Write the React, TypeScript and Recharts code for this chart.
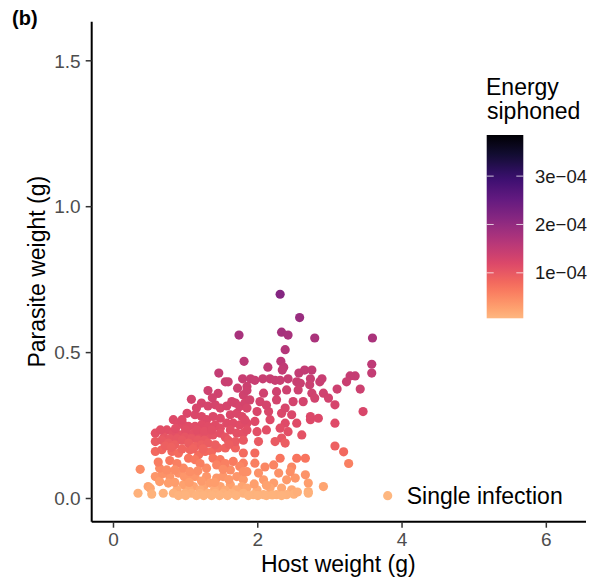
import React from 'react';
import { ScatterChart, Scatter, XAxis, YAxis } from 'recharts';

// ---- data: [host weight (g), parasite weight (g)] ----
const outlierPoints: number[][] = [
  [2.31, 0.70], [2.58, 0.62], [1.74, 0.56], [2.33, 0.57], [2.42, 0.56], [2.79, 0.55], [3.59, 0.55],
  [2.38, 0.51], [1.81, 0.47], [3.58, 0.46], [3.58, 0.43], [2.14, 0.45], [2.32, 0.47], [2.36, 0.45],
  [2.34, 0.44], [2.57, 0.43], [2.65, 0.44], [2.75, 0.44], [3.35, 0.42], [3.28, 0.42], [3.23, 0.40],
  [1.46, 0.43],
];
const upperPoints: number[][] = [
  [1.55, 0.40], [1.59, 0.40], [1.79, 0.41], [1.90, 0.41], [1.96, 0.405], [2.07, 0.41], [2.17, 0.41],
  [2.24, 0.405], [2.31, 0.405], [2.42, 0.41], [2.54, 0.40], [2.59, 0.395], [2.73, 0.41], [2.72, 0.39],
  [2.86, 0.40], [2.89, 0.41], [3.10, 0.375], [3.42, 0.375], [1.72, 0.378], [1.31, 0.37], [1.85, 0.384],
  [1.45, 0.36], [1.80, 0.355], [1.08, 0.34], [1.22, 0.327], [1.31, 0.317], [1.41, 0.321], [1.48, 0.31],
  [1.57, 0.317], [1.64, 0.332], [1.69, 0.327], [1.75, 0.315], [1.82, 0.327], [1.85, 0.37], [2.08, 0.361],
  [2.26, 0.366], [2.40, 0.372], [2.56, 0.372], [2.75, 0.361], [2.91, 0.361], [1.89, 0.338], [2.03, 0.332],
  [2.26, 0.338], [2.49, 0.332], [2.63, 0.332], [2.79, 0.344], [2.98, 0.344], [3.07, 0.321], [1.85, 0.31],
  [1.99, 0.298], [2.15, 0.298], [2.33, 0.292], [2.47, 0.287], [2.73, 0.281], [2.84, 0.275], [3.07, 0.258],
  [3.46, 0.298], [1.15, 0.31], [1.37, 0.345], [2.12, 0.32], [2.38, 0.31],
];
const middlePoints: number[][] = [
  [1.02, 0.292], [1.13, 0.287], [1.22, 0.281], [1.29, 0.27], [1.38, 0.281], [1.48, 0.275], [1.62, 0.287],
  [1.71, 0.292], [1.78, 0.281], [0.83, 0.27], [0.90, 0.258], [0.97, 0.252], [1.04, 0.247], [1.13, 0.247],
  [1.22, 0.252], [1.31, 0.247], [1.41, 0.252], [1.48, 0.241], [1.57, 0.258], [1.66, 0.258], [1.75, 0.252],
  [1.85, 0.258], [1.82, 0.27], [1.96, 0.264], [2.17, 0.27], [2.38, 0.258], [2.54, 0.258], [2.73, 0.27],
  [0.58, 0.224], [0.74, 0.235], [0.83, 0.224], [0.92, 0.218], [1.02, 0.218], [1.11, 0.224], [1.20, 0.218],
  [1.29, 0.212], [1.38, 0.218], [1.48, 0.224], [1.62, 0.235], [1.71, 0.224], [1.80, 0.224], [1.85, 0.235],
  [1.99, 0.229], [2.12, 0.235], [2.31, 0.241], [2.42, 0.229], [2.61, 0.218], [2.33, 0.207], [0.86, 0.24],
  [1.00, 0.235], [1.16, 0.235], [1.26, 0.23], [1.36, 0.235], [0.70, 0.21], [0.78, 0.205], [0.88, 0.205],
  [0.99, 0.21], [1.08, 0.205], [1.17, 0.20], [1.26, 0.20], [1.55, 0.21], [0.65, 0.235], [0.95, 0.27],
  [0.58, 0.195], [0.67, 0.20], [0.76, 0.19], [0.85, 0.184], [0.95, 0.20], [1.04, 0.19], [1.13, 0.178],
  [1.22, 0.184], [1.31, 0.19], [1.41, 0.184], [1.59, 0.20], [1.69, 0.195], [1.80, 0.20], [2.01, 0.195],
  [2.24, 0.195], [2.38, 0.19], [1.60, 0.185], [0.72, 0.18], [0.80, 0.175], [0.95, 0.17], [1.10, 0.17],
  [1.24, 0.17], [3.07, 0.18], [3.19, 0.16], [3.26, 0.12],
];
const lowerPoints: number[][] = [
  [0.58, 0.161], [0.67, 0.167], [0.81, 0.161], [0.90, 0.155], [1.06, 0.167], [1.18, 0.15], [1.27, 0.161],
  [1.36, 0.161], [1.45, 0.173], [1.55, 0.173], [1.69, 0.173], [1.04, 0.138], [1.13, 0.133], [1.38, 0.138],
  [1.48, 0.133], [1.66, 0.127], [1.80, 0.156], [1.96, 0.156], [2.31, 0.138], [2.54, 0.138], [2.66, 0.138],
  [1.80, 0.121], [1.96, 0.121], [2.10, 0.108], [2.22, 0.115], [2.47, 0.108], [0.37, 0.10], [0.64, 0.104],
  [0.74, 0.098], [0.97, 0.104], [1.06, 0.092], [1.29, 0.104], [1.43, 0.115], [1.62, 0.098], [1.75, 0.11],
  [1.80, 0.092], [1.85, 0.092], [2.01, 0.087], [2.29, 0.087], [2.45, 0.092], [2.66, 0.081],
  [0.62, 0.125], [0.78, 0.13], [0.88, 0.12], [1.20, 0.12], [1.55, 0.12], [0.85, 0.098], [1.17, 0.095],
  [1.52, 0.10],
];
const basePoints: number[][] = [
  [0.58, 0.075], [0.78, 0.075], [0.90, 0.087], [1.04, 0.07], [1.13, 0.075], [1.29, 0.075], [1.43, 0.07],
  [1.52, 0.075], [1.71, 0.075], [1.80, 0.064], [2.08, 0.064], [2.22, 0.053], [2.40, 0.064], [2.52, 0.07],
  [2.70, 0.053], [0.48, 0.041], [0.64, 0.058], [0.76, 0.053], [0.97, 0.047], [1.11, 0.041], [1.25, 0.041],
  [1.34, 0.053], [1.48, 0.041], [1.62, 0.047], [1.78, 0.041], [1.85, 0.036], [1.99, 0.03], [2.17, 0.036],
  [2.33, 0.036], [2.47, 0.03], [2.70, 0.024], [2.91, 0.041], [0.51, 0.035], [0.88, 0.03], [1.05, 0.03],
  [1.20, 0.03], [1.40, 0.03], [1.55, 0.028], [1.70, 0.03], [0.68, 0.085], [0.98, 0.075], [1.22, 0.06],
  [1.60, 0.065], [1.95, 0.05], [2.12, 0.045], [0.85, 0.055], [1.05, 0.055], [1.40, 0.055],
  [0.34, 0.018], [0.53, 0.015], [0.69, 0.018], [0.83, 0.018], [0.99, 0.018], [1.08, 0.018], [1.20, 0.018],
  [1.31, 0.018], [1.41, 0.018], [1.52, 0.018], [1.64, 0.018], [1.80, 0.018], [1.94, 0.013], [2.08, 0.013],
  [2.26, 0.013], [2.40, 0.013], [2.70, 0.018], [0.90, 0.01], [1.00, 0.01], [1.15, 0.01], [1.25, 0.01],
  [1.36, 0.01], [1.47, 0.01], [1.58, 0.01], [1.70, 0.01], [1.87, 0.01], [2.00, 0.01], [2.12, 0.01],
  [2.20, 0.012], [2.33, 0.01], [2.50, 0.015], [2.55, 0.022],
];

const xTicks = [0, 2, 4, 6];
const yTicks = [0, 0.5, 1, 1.5];
const energyTicks = [1e-4, 2e-4, 3e-4];
const energyTickLabels = ['1e\u221204', '2e\u221204', '3e\u221204'];
const energyRange = [0.06e-4, 3.85e-4];

// ---- styling helpers ----
const FONT = '"Liberation Sans", Arial, Helvetica, sans-serif';
const magmaStops = ['#000004', '#140E36', '#3B0F70', '#641A80', '#8C2981', '#B73779', '#DE4968', '#F7705C', '#FE9F6D', '#FECF92', '#FCFDBF'];

function hexToRgb(h: string) {
  return [parseInt(h.slice(1, 3), 16), parseInt(h.slice(3, 5), 16), parseInt(h.slice(5, 7), 16)];
}
function magma(t: number) {
  const tt = Math.max(0, Math.min(1, t)) * 10;
  const i = Math.min(9, Math.floor(tt));
  const f = tt - i;
  const a = hexToRgb(magmaStops[i]);
  const b = hexToRgb(magmaStops[i + 1]);
  const c = a.map((v, k) => Math.round(v + (b[k] - v) * f));
  return `rgb(${c[0]},${c[1]},${c[2]})`;
}
// colour position along the palette for a point, keyed on parasite weight
const colourAnchors = [
  [0, 0.85], [0.02, 0.835], [0.05, 0.8], [0.1, 0.76], [0.16, 0.68], [0.22, 0.62], [0.3, 0.585],
  [0.4, 0.545], [0.5, 0.5], [0.56, 0.465], [0.62, 0.43], [0.7, 0.38],
];
function pointColour(y: number) {
  for (let i = 0; i < colourAnchors.length - 1; i++) {
    const [y0, t0] = colourAnchors[i];
    const [y1, t1] = colourAnchors[i + 1];
    if (y <= y1) {
      const f = Math.max(0, (y - y0) / (y1 - y0));
      return magma(t0 + (t1 - t0) * f);
    }
  }
  return magma(0.38);
}

const allPoints = [...basePoints, ...lowerPoints, ...middlePoints, ...upperPoints, ...outlierPoints];
const chartData = allPoints.map(([x, y]) => ({ x, y }));

const Dot = (props: any) => {
  const { cx, cy, payload } = props;
  if (cx == null || cy == null) return null;
  return <circle cx={cx} cy={cy} r={4.6} fill={pointColour(payload.y)} />;
};

// colourbar geometry
const BAR_X = 486.7;
const BAR_Y = 135;
const BAR_W = 36.6;
const BAR_H = 183.3;

export default function App() {
  const barY = (v: number) => BAR_Y + ((energyRange[1] - v) / (energyRange[1] - energyRange[0])) * BAR_H;
  const gradStops = Array.from({ length: 21 }, (_, i) => i / 20);
  return (
    <div style={{ position: 'absolute', left: 0, top: 0, width: 594, height: 583, background: '#fff', fontFamily: FONT }}>
      <ScatterChart width={594} height={583} margin={{ top: 21.7, right: 8, bottom: 21.3, left: 31.7 }}>
        <XAxis
          type="number"
          dataKey="x"
          domain={[-0.302, 6.55]}
          ticks={xTicks}
          allowDataOverflow
          interval={0}
          height={40}
          tickSize={6}
          tickMargin={5}
          axisLine={{ stroke: '#000', strokeWidth: 2 }}
          tickLine={{ stroke: '#333', strokeWidth: 1.5 }}
          tick={{ fill: '#4D4D4D', fontSize: 19, fontFamily: FONT }}
        />
        <YAxis
          type="number"
          dataKey="y"
          domain={[-0.0795, 1.634]}
          ticks={yTicks}
          allowDataOverflow
          interval={0}
          width={60}
          tickSize={6}
          tickMargin={5}
          tickFormatter={(v: number) => v.toFixed(1)}
          axisLine={{ stroke: '#000', strokeWidth: 2 }}
          tickLine={{ stroke: '#333', strokeWidth: 1.5 }}
          tick={{ fill: '#4D4D4D', fontSize: 19, fontFamily: FONT }}
        />
        <Scatter data={chartData} isAnimationActive={false} shape={Dot} />
      </ScatterChart>
      <svg width={594} height={583} style={{ position: 'absolute', left: 0, top: 0, pointerEvents: 'none' }}>
        <defs>
          <linearGradient id="energyGrad" x1="0" y1="0" x2="0" y2="1">
            {gradStops.map((o) => (
              <stop key={o} offset={o} stopColor={magma(0.85 * o)} />
            ))}
          </linearGradient>
        </defs>
        <text x={12} y={24.5} fontSize={20} fontWeight="bold" fill="#000" fontFamily={FONT}>(b)</text>
        <text transform="translate(45,271.7) rotate(-90)" textAnchor="middle" fontSize={23} fill="#000" fontFamily={FONT}>
          Parasite weight (g)
        </text>
        <text x={338.3} y={571.5} textAnchor="middle" fontSize={23} fill="#000" fontFamily={FONT}>
          Host weight (g)
        </text>
        <text x={486} y={95} fontSize={23} fill="#000" fontFamily={FONT}>Energy</text>
        <text x={487} y={118.5} fontSize={23} fill="#000" fontFamily={FONT}>siphoned</text>
        <rect x={BAR_X} y={BAR_Y} width={BAR_W} height={BAR_H} fill="url(#energyGrad)" />
        {energyTicks.map((v, i) => (
          <g key={v}>
            <line x1={BAR_X} x2={BAR_X + 7} y1={barY(v)} y2={barY(v)} stroke="#fff" strokeOpacity={0.75} strokeWidth={1} />
            <line x1={BAR_X + BAR_W - 7} x2={BAR_X + BAR_W} y1={barY(v)} y2={barY(v)} stroke="#fff" strokeOpacity={0.75} strokeWidth={1} />
            <text x={535} y={barY(v)} dy="0.36em" fontSize={18.5} fill="#1A1A1A" fontFamily={FONT}>
              {energyTickLabels[i]}
            </text>
          </g>
        ))}
        <circle cx={387.7} cy={495.7} r={4.6} fill={magma(0.85)} />
        <text x={406.7} y={503.5} fontSize={23} fill="#000" fontFamily={FONT}>Single infection</text>
      </svg>
    </div>
  );
}
